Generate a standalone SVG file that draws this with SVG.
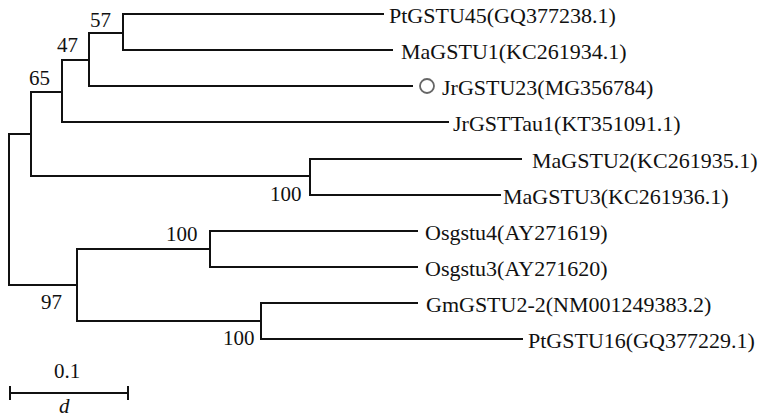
<svg xmlns="http://www.w3.org/2000/svg" width="761" height="420" viewBox="0 0 761 420">
<style>
.br{fill:none;stroke:#111;stroke-width:2;stroke-linecap:square}
.lb{font-family:"Liberation Serif","Times New Roman",serif;font-size:22px;fill:#111}
.bs{font-family:"Liberation Serif","Times New Roman",serif;font-size:21px;fill:#111}
</style>
<rect width="761" height="420" fill="#fff"/>
<g id="connectors">
<path class="br" d="M9,134V285M9,134H31M9,285H77"/>
<path class="br" d="M31,92V176M31,92H62M31,176H310"/>
<path class="br" d="M62,60V122M62,60H89M62,122H448"/>
<path class="br" d="M89,33V86M89,33H123M89,86H412"/>
<path class="br" d="M123,14V50M123,14H383M123,50H392"/>
<path class="br" d="M310,159V195M310,159H521M310,195H500"/>
<path class="br" d="M77,249V321M77,249H210M77,321H261"/>
<path class="br" d="M210,231V267M210,231H417M210,267H417"/>
<path class="br" d="M261,303V339M261,303H417M261,339H522"/>
</g>
<g id="bootstrap">
<text class="bs" x="90" y="27">57</text>
<text class="bs" x="57" y="52">47</text>
<text class="bs" x="29" y="85">65</text>
<text class="bs" x="270" y="201">100</text>
<text class="bs" x="166" y="241">100</text>
<text class="bs" x="41" y="309">97</text>
<text class="bs" x="223" y="345">100</text>
</g>
<g id="leaf-PtGSTU45"><text class="lb" x="389" y="23">PtGSTU45(GQ377238.1)</text></g>
<g id="leaf-MaGSTU1"><text class="lb" x="401" y="59">MaGSTU1(KC261934.1)</text></g>
<g id="leaf-JrGSTU23"><circle cx="427" cy="86" r="7" fill="none" stroke="#666" stroke-width="1.8"/><text class="lb" x="442" y="95">JrGSTU23(MG356784)</text></g>
<g id="leaf-JrGSTTau1"><text class="lb" x="453" y="131">JrGSTTau1(KT351091.1)</text></g>
<g id="leaf-MaGSTU2"><text class="lb" x="532" y="168">MaGSTU2(KC261935.1)</text></g>
<g id="leaf-MaGSTU3"><text class="lb" x="503" y="204">MaGSTU3(KC261936.1)</text></g>
<g id="leaf-Osgstu4"><text class="lb" x="425" y="240">Osgstu4(AY271619)</text></g>
<g id="leaf-Osgstu3"><text class="lb" x="425" y="276">Osgstu3(AY271620)</text></g>
<g id="leaf-GmGSTU2-2"><text class="lb" x="426" y="312">GmGSTU2-2(NM001249383.2)</text></g>
<g id="leaf-PtGSTU16"><text class="lb" x="528" y="348">PtGSTU16(GQ377229.1)</text></g>
<g id="scale">
<path class="br" d="M10,393H128M10,387V399M128,387V399" stroke-linecap="butt"/>
<text class="bs" x="54" y="378">0.1</text>
<text class="bs" x="59" y="413" font-style="italic">d</text>
</g>
</svg>
